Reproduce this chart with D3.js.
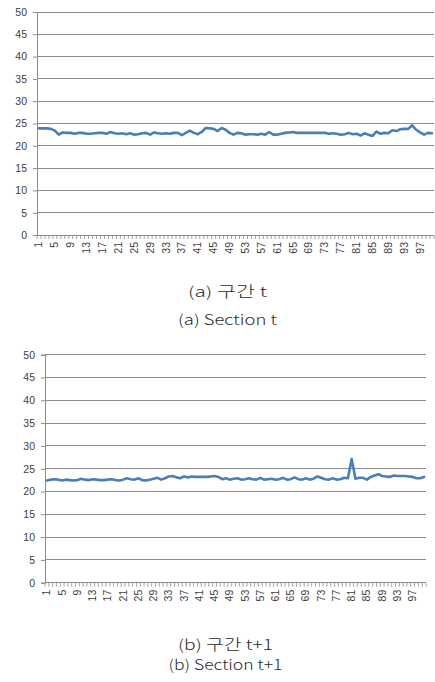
<!DOCTYPE html>
<html>
<head>
<meta charset="utf-8">
<script src="https://cdn.jsdelivr.net/npm/d3@7"></script>
<style>
  html, body { margin: 0; padding: 0; background: #fff; }
  svg { display: block; }
  .caption { font-family: "Noto Sans CJK KR", "Noto Sans", sans-serif; fill: #2a2a2a; font-weight: 300; }
</style>
</head>
<body>
<svg id="fig" width="435" height="682"></svg>
<script>
// Measurement index 1..100 for both sections
const categories = d3.range(1, 101);

// Section t readings
const sectionT = [
  23.9, 23.9, 23.9, 23.8, 23.4, 22.5, 23.0, 22.9, 22.9, 22.7,
  22.9, 22.9, 22.7, 22.7, 22.8, 22.9, 22.9, 22.7, 23.1, 22.8,
  22.7, 22.8, 22.6, 22.8, 22.5, 22.6, 22.8, 22.9, 22.5, 23.0,
  22.8, 22.7, 22.8, 22.7, 22.9, 22.9, 22.4, 22.9, 23.4, 22.9,
  22.6, 23.1, 24.0, 23.9, 23.8, 23.3, 24.0, 23.6, 22.9, 22.5,
  22.9, 22.8, 22.5, 22.6, 22.6, 22.5, 22.7, 22.5, 23.1, 22.5,
  22.5, 22.7, 22.9, 23.0, 23.1, 22.9, 22.9, 22.9, 22.9, 22.9,
  22.9, 22.9, 22.9, 22.7, 22.8, 22.7, 22.5, 22.6, 22.9, 22.6,
  22.7, 22.3, 22.8, 22.5, 22.2, 23.2, 22.7, 22.9, 22.8, 23.5,
  23.3, 23.7, 23.8, 23.8, 24.6, 23.6, 23.0, 22.5, 22.9, 22.8
];

// Section t+1 readings
const sectionT1 = [
  22.4, 22.6, 22.7, 22.6, 22.4, 22.6, 22.5, 22.4, 22.5, 22.8,
  22.6, 22.5, 22.7, 22.6, 22.5, 22.5, 22.6, 22.7, 22.5, 22.4,
  22.6, 22.9, 22.7, 22.6, 22.9, 22.5, 22.4, 22.6, 22.8, 23.0,
  22.6, 22.9, 23.3, 23.4, 23.1, 22.9, 23.3, 23.1, 23.3, 23.2,
  23.2, 23.2, 23.2, 23.3, 23.4, 23.2, 22.7, 22.9, 22.6, 22.8,
  22.9, 22.6, 22.7, 22.9, 22.7, 22.6, 23.0, 22.6, 22.7, 22.8,
  22.6, 22.7, 23.0, 22.6, 22.7, 23.1, 22.7, 22.6, 22.9, 22.6,
  22.8, 23.3, 23.0, 22.7, 22.6, 22.9, 22.6, 22.7, 23.0, 22.9,
  27.1, 22.8, 23.0, 23.0, 22.6, 23.2, 23.5, 23.8, 23.4, 23.3,
  23.2, 23.5, 23.4, 23.4, 23.4, 23.3, 23.2, 22.9, 22.9, 23.2
];

const yTicks = [0, 5, 10, 15, 20, 25, 30, 35, 40, 45, 50];
const xLabelEvery = 4;

const captionsA = ["(a) 구간 t", "(a) Section t"];
const captionsB = ["(b) 구간 t+1", "(b) Section t+1"];

const svg = d3.select("#fig");

function drawPanel(values, box, captions, capBox) {
  const g = svg.append("g");
  const x = d3.scaleBand().domain(categories).range([box.left, box.right]).padding(0);
  const y = d3.scaleLinear().domain([0, 50]).range([box.bottom, box.top]);

  // horizontal gridlines
  g.append("g").selectAll("line").data(yTicks.filter(d => d > 0)).join("line")
    .attr("x1", box.left).attr("x2", box.right)
    .attr("y1", d => y(d)).attr("y2", d => y(d))
    .attr("stroke", "#8c8c8c").attr("stroke-width", 1)
    .attr("shape-rendering", "crispEdges");

  // y axis
  const ya = g.append("g").attr("transform", `translate(${box.left},0)`)
    .call(d3.axisLeft(y).tickValues(yTicks).tickSize(4).tickPadding(6));
  ya.select(".domain").attr("stroke", "#8c8c8c");
  ya.selectAll(".tick line").attr("stroke", "#8c8c8c");
  ya.selectAll(".tick text")
    .attr("font-family", "Liberation Sans, DejaVu Sans, sans-serif")
    .attr("font-size", 10.5).attr("fill", "#404040");

  // x axis: boundary ticks between categories, every fourth label
  const xa = g.append("g").attr("transform", `translate(0,${box.bottom})`);
  xa.append("line").attr("x1", box.left).attr("x2", box.right)
    .attr("y1", 0).attr("y2", 0).attr("stroke", "#8c8c8c")
    .attr("shape-rendering", "crispEdges");
  xa.selectAll("line.bt").data(categories.concat([null])).join("line")
    .attr("class", "bt")
    .attr("x1", (d, i) => box.left + i * x.bandwidth())
    .attr("x2", (d, i) => box.left + i * x.bandwidth())
    .attr("y1", 0).attr("y2", 4)
    .attr("stroke", "#8c8c8c").attr("stroke-width", 0.8);
  xa.selectAll("text").data(categories.filter((d, i) => i % xLabelEvery === 0)).join("text")
    .attr("transform", d => `translate(${x(d) + x.bandwidth() / 2 + 3.5},7) rotate(-90)`)
    .attr("text-anchor", "end")
    .attr("font-family", "Liberation Sans, DejaVu Sans, sans-serif")
    .attr("font-size", 10.5)
    .attr("fill", "#404040")
    .text(d => d);

  // series line
  const line = d3.line()
    .x((d, i) => x(categories[i]) + x.bandwidth() / 2)
    .y(d => y(d))
    .curve(d3.curveLinear);
  g.append("path").datum(values)
    .attr("d", line)
    .attr("fill", "none")
    .attr("stroke", "#4a7ebb")
    .attr("stroke-width", 2.6)
    .attr("stroke-linejoin", "round")
    .attr("stroke-linecap", "round");

  // captions
  captions.forEach((t, i) => {
    svg.append("text").attr("class", "caption")
      .attr("x", capBox.cx).attr("y", capBox.ys[i])
      .attr("text-anchor", "middle")
      .attr("font-size", 14.5)
      .attr("textLength", capBox.widths[i])
      .attr("lengthAdjust", "spacingAndGlyphs")
      .text(t);
  });
}

drawPanel(sectionT, { left: 37, right: 434, top: 12, bottom: 235 }, captionsA,
  { cx: 227.5, ys: [297, 325], widths: [79, 99] });
drawPanel(sectionT1, { left: 45, right: 426, top: 354.7, bottom: 582.7 }, captionsB,
  { cx: 225.5, ys: [650, 670], widths: [95, 114] });
</script>
</body>
</html>
